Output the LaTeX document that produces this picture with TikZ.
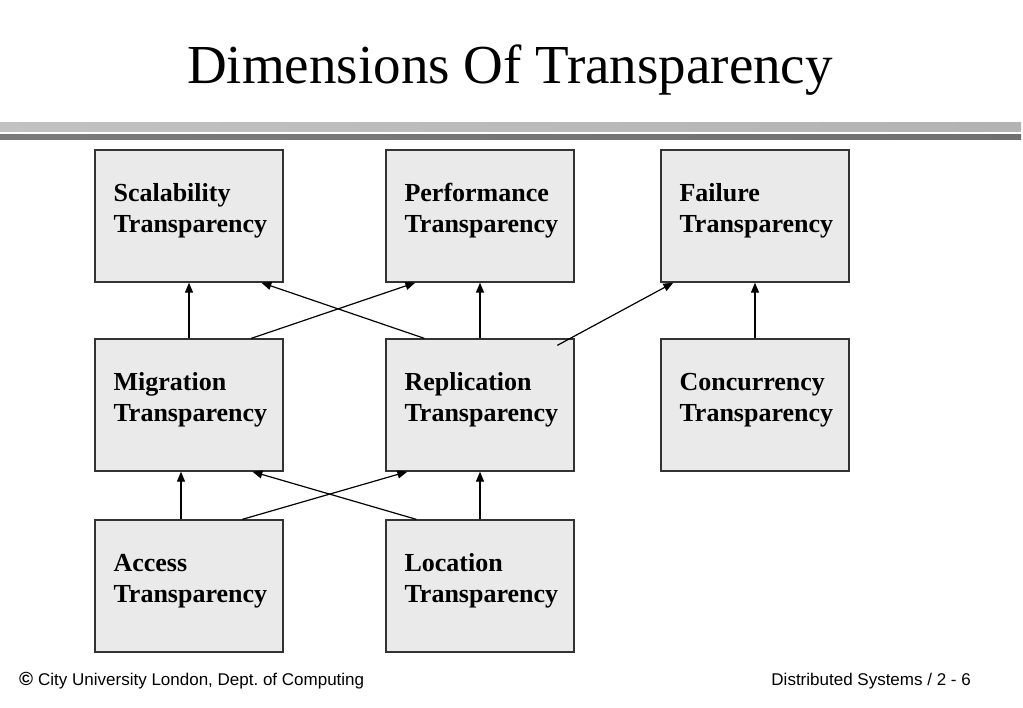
\documentclass[tikz,border=0pt]{standalone}
\usepackage{fontspec}
\setmainfont{Liberation Serif}
\newfontfamily\footfont{Liberation Sans}
\usetikzlibrary{calc,arrows.meta}
\definecolor{boxfill}{HTML}{EAEAEA}
\definecolor{boxline}{HTML}{333333}
\frenchspacing
\begin{document}
\begin{tikzpicture}[x=1pt,y=-1pt,
  dimbox/.style={draw=boxline,line width=1.3pt,fill=boxfill,minimum width=188pt,minimum height=132pt,inner sep=0pt},
  boxtext/.style={anchor=base west,inner sep=0pt,font=\fontsize{26pt}{30pt}\selectfont\bfseries},
  arr/.style={line width=1.2pt,-{Triangle[length=10pt,width=8pt]}},
  foot/.style={anchor=base west,inner sep=0pt,font=\footfont\fontsize{17pt}{20pt}\selectfont}]
\useasboundingbox (0,0) rectangle (1023,708);
\fill[white] (0,0) rectangle (1023,708);
% title
\node[anchor=base,inner sep=0pt,font=\fontsize{55pt}{60pt}\selectfont] (title) at (510,84) {Dimensions Of Transparency};
% header bars
\shade[left color=black!24,middle color=black!14,right color=black!30] (0,123) rectangle (1021,132);
\shade[left color=black!52,middle color=black!32,right color=black!56] (0,135) rectangle (1021,140);
% boxes
\node[dimbox] (scal) at (189,216) {};
\node[dimbox] (perf) at (480,216) {};
\node[dimbox] (fail) at (755,216) {};
\node[dimbox] (mig) at (189,405) {};
\node[dimbox] (rep) at (480,405) {};
\node[dimbox] (conc) at (755,405) {};
\node[dimbox] (acc) at (189,586) {};
\node[dimbox] (loc) at (480,586) {};
% box texts
\foreach \b/\l in {scal/Scalability,perf/Performance,fail/Failure,mig/Migration,rep/Replication,conc/Concurrency,acc/Access,loc/Location}{
  \node[boxtext] (\b-a) at ($(\b.north west)+(19,52)$) {\l};
  \node[boxtext] (\b-b) at ($(\b.north west)+(19,83)$) {Transparency};
}
% connectors
\draw[arr] (mig.north) -- (scal.south);
\draw[arr] ($(mig.north west)+(157,0)$) -- ($(perf.south west)+(30,0)$);
\draw[arr] ($(rep.north west)+(39,0)$) -- ($(scal.south west)+(167,0)$);
\draw[arr] (rep.north) -- (perf.south);
\coordinate (repstart) at ($(rep.north west)+(172,7)$);
\draw[arr] (repstart) -- ($(fail.south west)+(13,0)$);
\draw[arr] (conc.north) -- (fail.south);
\draw[arr] ($(acc.north)+(-8,0)$) -- ($(mig.south)+(-8,0)$);
\draw[arr] ($(acc.north west)+(148,0)$) -- ($(rep.south west)+(22,0)$);
\draw[arr] ($(loc.north west)+(31,0)$) -- ($(mig.south west)+(158,0)$);
\draw[arr] (loc.north) -- (rep.south);
% footer
\node[foot,font=\footfont\fontsize{19pt}{20pt}\selectfont\bfseries] (copy) at (19,685) {©};
\node[foot] (footl) at (38,685) {City University London, Dept. of Computing};
\node[foot,anchor=base east] (footr) at (971,685) {Distributed Systems / 2 - 6};
\end{tikzpicture}
\end{document}
